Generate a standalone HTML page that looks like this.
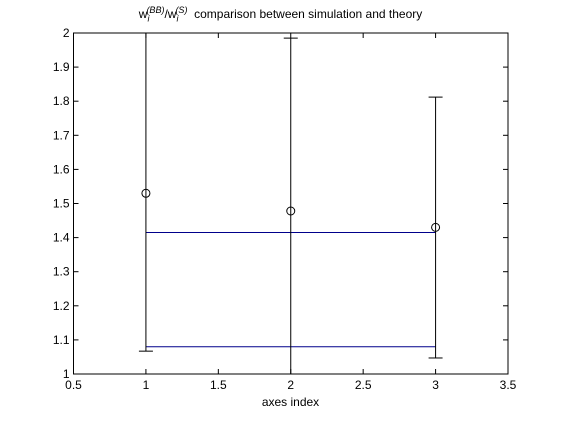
<!DOCTYPE html>
<html><head><meta charset="utf-8"><style>
body{margin:0;background:#fff}
svg text{font-family:"Liberation Sans",sans-serif;font-size:12px}
</style></head><body>
<svg id="c" width="561" height="420">
<rect x="0" y="0" width="561" height="420" fill="#fff"/>
<g id="g"></g>
</svg>
<script>
const xVals=[1,2,3];
const yVals=[1.53,1.478,1.43];
const lowVals=[1.067,0.95,1.047];
const highVals=[2.0,1.985,1.812];
const theoryLines=[1.415,1.08];
const xTicks=[0.5,1,1.5,2,2.5,3,3.5];
const yTicks=[1,1.1,1.2,1.3,1.4,1.5,1.6,1.7,1.8,1.9,2];
const L=73.5,R=508,T=33,B=374;
const sx=v=>L+(v-0.5)/3*(R-L);
const sy=v=>B-(v-1)*(B-T);
const g=document.getElementById('g');
const NS='http://www.w3.org/2000/svg';
function mk(t,a){const e=document.createElementNS(NS,t);for(const k in a)e.setAttribute(k,a[k]);g.appendChild(e);return e;}
let e=mk('rect',{x:L,y:T,width:R-L,height:B-T,fill:'none',stroke:'#000'});


xTicks.forEach(v=>{const x=sx(v);
 mk('line',{x1:x,x2:x,y1:B,y2:B-5,stroke:'#000'});mk('line',{x1:x,x2:x,y1:T,y2:T+5,stroke:'#000'});
 const t=mk('text',{x:x,y:B+15,'text-anchor':'middle'});t.textContent=String(v);
 
 });
yTicks.forEach(v=>{const y=sy(v);
 mk('line',{x1:L,x2:L+5,y1:y,y2:y,stroke:'#000'});mk('line',{x1:R,x2:R-5,y1:y,y2:y,stroke:'#000'});
 const t=mk('text',{x:L-4,y:y+4,'text-anchor':'end'});t.textContent=String(v);
 
 });
theoryLines.forEach(v=>{const l=mk('line',{x1:sx(1),x2:sx(3),y1:sy(v),y2:sy(v),stroke:'#00008b'});
 
 });
xVals.forEach((xv,i)=>{const x=sx(xv);
 const lo=Math.max(lowVals[i],1),yl=sy(lo),yh=sy(highVals[i]);
 const l=mk('line',{x1:x,x2:x,y1:yl,y2:yh,stroke:'#000'});
 
 
 mk('line',{x1:x-7,x2:x+7,y1:yh,y2:yh,stroke:'#000'});
 if(lowVals[i]>=1)mk('line',{x1:x-7,x2:x+7,y1:yl,y2:yl,stroke:'#000'});
 const c=mk('circle',{cx:x,cy:sy(yVals[i]),r:4,fill:'none',stroke:'#000'});
 
 });
</script>
<div style="position:absolute;left:0;top:0;width:561px;text-align:center;font:12px 'Liberation Sans',sans-serif;top:5px">w<sub style="font-style:italic;font-size:9px">i</sub><sup style="font-style:italic;font-size:9px;margin-left:-3px">(BB)</sup>/w<sub style="font-style:italic;font-size:9px">i</sub><sup style="font-style:italic;font-size:9px;margin-left:-3px">(S)</sup>&nbsp; comparison between simulation and theory</div>
<div style="position:absolute;left:0;top:395px;width:581px;text-align:center;font:12px 'Liberation Sans',sans-serif">axes index</div>
</body></html>
